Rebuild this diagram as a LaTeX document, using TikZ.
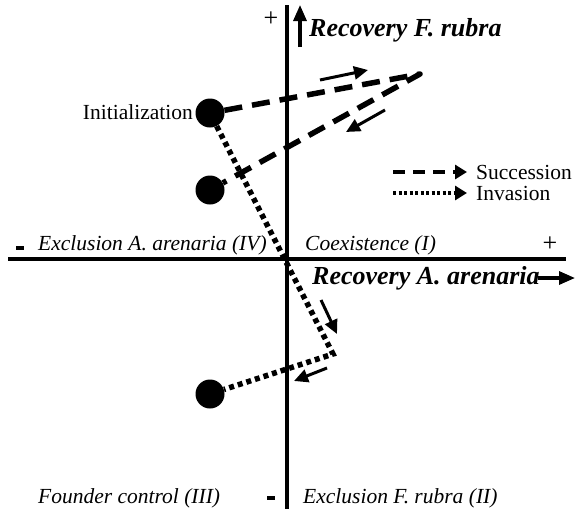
\documentclass[tikz,border=0pt]{standalone}
\usepackage{fontspec}
\setmainfont{Liberation Serif}
\usetikzlibrary{arrows.meta}
\tikzset{
  dotnode/.style={circle,fill=black,inner sep=0pt,minimum size=29pt},
  axisline/.style={line width=4.5pt},
  succline/.style={line width=5.5pt,dash pattern=on 18pt off 10pt,line join=round},
  invline/.style={line width=5.5pt,dash pattern=on 5pt off 4pt},
  dirarrow/.style={line width=3pt,-{Triangle[length=14pt,width=13pt]}},
  lbl/.style={inner sep=0pt,anchor=base west,font=\fontsize{21.5}{23}\selectfont},
  quad/.style={lbl,font=\fontsize{21.5}{23}\selectfont\itshape},
  axlbl/.style={inner sep=0pt,anchor=base west,font=\fontsize{26}{28}\selectfont\bfseries\itshape},
  sign/.style={inner sep=0pt,font=\fontsize{26}{28}\selectfont}
}
\begin{document}
\begin{tikzpicture}[x=1pt,y=-1pt]
\useasboundingbox (0,0) rectangle (575,509);
% axes
\coordinate (axl) at (8,259);
\coordinate (axr) at (566,259);
\coordinate (ayt) at (287,5);
\coordinate (ayb) at (287,509);
\draw[axisline] (axl) -- (axr);
\draw[axisline] (ayt) -- (ayb);
% axis labels
\coordinate (upa) at (300,47);
\coordinate (upb) at (300,5);
\draw[line width=3.2pt,-{Triangle[length=16pt,width=13pt]}] (upa) -- (upb);
\node[axlbl] (yl) at (309,36) {Recovery F. rubra};
\node[axlbl] (xl) at (312,284) {Recovery A. arenaria};
\coordinate (ra) at (538,278);
\coordinate (rb) at (575,278);
\draw[line width=3.2pt,-{Triangle[length=16pt,width=13pt]}] (ra) -- (rb);
% signs
\node[sign] (ptop) at (271,19) {+};
\node[sign] (pright) at (550,244) {+};
\node[fill=black,minimum width=8pt,minimum height=3.5pt,inner sep=0pt] (mleft) at (20,248) {};
\node[fill=black,minimum width=8pt,minimum height=3.5pt,inner sep=0pt] (mbot) at (271,498) {};
% quadrant labels
\node[quad] (q4) at (38,250) {Exclusion A. arenaria (IV)};
\node[quad] (q1) at (305,250) {Coexistence (I)};
\node[quad] (q3) at (38,503) {Founder control (III)};
\node[quad] (q2) at (303,503) {Exclusion F. rubra (II)};
% dots
\node[dotnode] (d1) at (210,113) {};
\node[dotnode] (d2) at (210,190) {};
\node[dotnode] (d3) at (210,394) {};
\node[lbl,anchor=base east] (init) at (193,119) {Initialization};
% trajectories
\coordinate (c1) at (420,74);
\coordinate (c2) at (333,354);
\draw[succline] (d1) -- (c1) -- (d2);
\draw[invline] (d1) -- (c2) -- (d3);
% direction arrows
\coordinate (a1s) at (320,80);
\coordinate (a1e) at (368,70);
\draw[dirarrow] (a1s) -- (a1e);
\coordinate (a2s) at (385,110);
\coordinate (a2e) at (346,132);
\draw[dirarrow] (a2s) -- (a2e);
\coordinate (a3s) at (321,300);
\coordinate (a3e) at (337,334);
\draw[dirarrow] (a3s) -- (a3e);
\coordinate (a4s) at (327,368);
\coordinate (a4e) at (294,381);
\draw[dirarrow] (a4s) -- (a4e);
% legend
\coordinate (ls1) at (393,172);
\coordinate (le1) at (467,172);
\draw[line width=4.5pt,dash pattern=on 12pt off 8pt,-{Triangle[length=12pt,width=14pt]}] (ls1) -- (le1);
\node[lbl,anchor=west] (succ) at (476,172) {Succession};
\coordinate (ls2) at (393,193);
\coordinate (le2) at (467,193);
\draw[line width=4pt,dash pattern=on 3pt off 2.5pt,-{Triangle[length=12pt,width=14pt]}] (ls2) -- (le2);
\node[lbl,anchor=west] (inv) at (476,193) {Invasion};
\end{tikzpicture}
\end{document}
